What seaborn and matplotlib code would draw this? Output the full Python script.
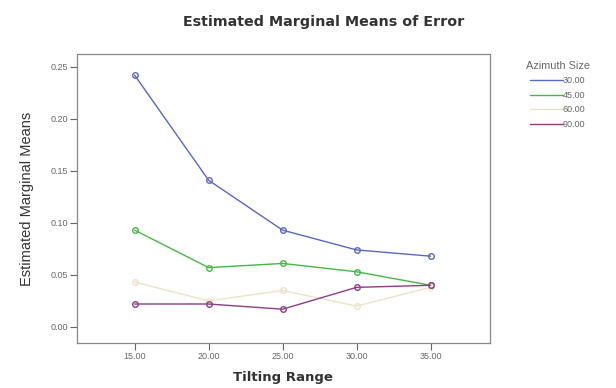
import matplotlib
matplotlib.use("Agg")
import matplotlib.pyplot as plt
import seaborn as sns
import pandas as pd
from matplotlib.lines import Line2D

# Estimated marginal means of error by tilting range, one series per azimuth size
tilting_range = [15.0, 20.0, 25.0, 30.0, 35.0]
azimuth_sizes = ["30.00", "45.00", "60.00", "90.00"]
means_30 = [0.242, 0.141, 0.093, 0.074, 0.068]
means_45 = [0.093, 0.057, 0.061, 0.053, 0.040]
means_60 = [0.043, 0.025, 0.035, 0.020, 0.038]
means_90 = [0.022, 0.022, 0.017, 0.038, 0.040]
y_ticks = [0.00, 0.05, 0.10, 0.15, 0.20, 0.25]

series = [means_30, means_45, means_60, means_90]
colors = ["#5868c4", "#45b845", "#ece2c8", "#8e3d86"]

rows = []
for size, vals in zip(azimuth_sizes, series):
    for x, v in zip(tilting_range, vals):
        rows.append({"Tilting Range": x, "Mean": v, "Azimuth Size": size})
df = pd.DataFrame(rows)

sns.set_theme(style="white")
plt.rcParams["font.family"] = ["Liberation Sans", "DejaVu Sans"]

fig = plt.figure(figsize=(6.16, 3.88), dpi=100)
ax = fig.add_axes([0.125, 0.116, 0.67, 0.745])

sns.lineplot(data=df, x="Tilting Range", y="Mean", hue="Azimuth Size",
             hue_order=azimuth_sizes, palette=colors, marker="o",
             markersize=4, linewidth=1.0, legend=False, ax=ax)
for line in ax.lines:
    line.set_markerfacecolor("none")
    line.set_markeredgecolor(line.get_color())
    line.set_markeredgewidth(1.0)

ax.set_xlim(11.1, 39.0)
ax.set_ylim(-0.0155, 0.2625)
ax.set_xticks(tilting_range)
ax.set_xticklabels([f"{v:.2f}" for v in tilting_range])
ax.set_yticks(y_ticks)
ax.set_yticklabels([f"{v:.2f}" for v in y_ticks])
ax.tick_params(axis="both", direction="out", length=5, width=0.8,
               labelsize=6.5, colors="#666666", labelcolor="#666666",
               bottom=True, left=True, pad=1.5)
for s in ax.spines.values():
    s.set_color("#888888")
    s.set_linewidth(0.9)

ax.set_xlabel("Tilting Range", fontsize=9.5, fontweight="bold", color="#333333",
              family=["DejaVu Sans"], labelpad=7)
ax.set_ylabel("Estimated Marginal Means", fontsize=10.5, color="#333333",
              family=["Liberation Sans", "DejaVu Sans"], labelpad=12)
fig.text(0.526, 0.943, "Estimated Marginal Means of Error", ha="center", va="center",
         fontsize=10.3, fontweight="bold", color="#333333", family=["DejaVu Sans"])

handles = [Line2D([0], [0], color=c, lw=1.0) for c in colors]
leg = fig.legend(handles, azimuth_sizes, title="Azimuth Size", loc="upper left",
                 bbox_to_anchor=(0.84, 0.865), frameon=False, fontsize=6.5,
                 title_fontsize=7.8, handlelength=3.6, handletextpad=0.0,
                 labelspacing=0.62, markerfirst=True)
for t in leg.get_texts():
    t.set_color("#666666")
leg.get_title().set_color("#666666")

fig.savefig("out.png", dpi=100, facecolor="white")
